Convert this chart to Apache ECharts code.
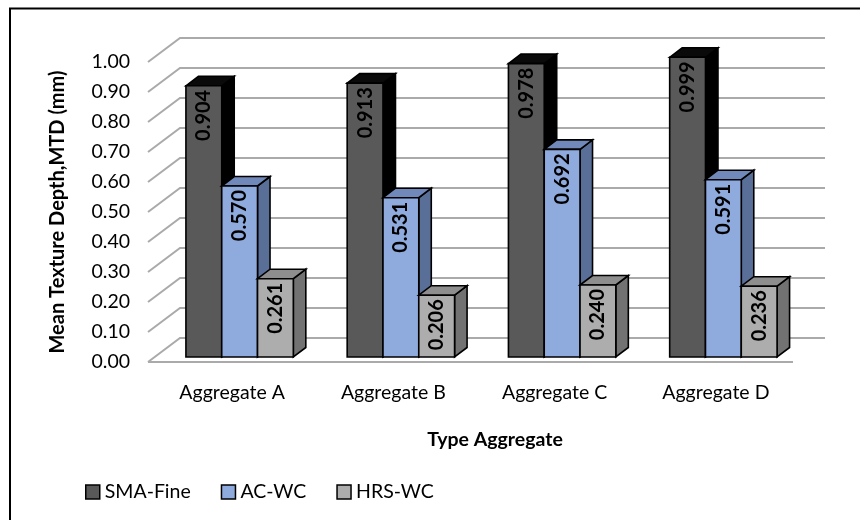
<!DOCTYPE html>
<html>
<head>
<meta charset="utf-8">
<script src="https://cdn.jsdelivr.net/npm/echarts@6/dist/echarts.min.js"></script>
<style>
  html, body { margin: 0; padding: 0; background: #fff; }
  #chart { width: 860px; height: 520px; }
</style>
</head>
<body>
<div id="chart"></div>
<script>
// Mean texture depth per aggregate type
const categories = ['Aggregate A', 'Aggregate B', 'Aggregate C', 'Aggregate D'];
const seriesNames = ['SMA-Fine', 'AC-WC', 'HRS-WC'];
const smaFine = [0.904, 0.913, 0.978, 0.999];
const acWc = [0.570, 0.531, 0.692, 0.591];
const hrsWc = [0.261, 0.206, 0.240, 0.236];
const yTicks = [0, 0.1, 0.2, 0.3, 0.4, 0.5, 0.6, 0.7, 0.8, 0.9, 1.0];

const FONT = 'Lato';

// front / top / side shades for each series
const shades = [
  { front: '#595959', top: '#0a0a0a', side: '#000000' },
  { front: '#8faadc', top: '#7189ba', side: '#5a6f98' },
  { front: '#adadad', top: '#8e8e8e', side: '#727272' }
];

// oblique depth of the wall and of the bars (px)
const WALL_DX = 32, WALL_DY = -24;
const BAR_FRONT_DY = -5;
const BAR_DX = 12.5, BAR_DY = -9.5;

function wallRender(params, api) {
  const cs = params.coordSys;
  const v = api.value(1);
  const p = api.coord([0, v]);
  const x0 = cs.x, x1 = cs.x + cs.width, y = p[1];
  const children = [{
    type: 'polyline',
    shape: { points: [[x0, y], [x0 + WALL_DX, y + WALL_DY], [x1 + WALL_DX, y + WALL_DY]] },
    style: { stroke: '#aaaaaa', lineWidth: 2, fill: null }
  }];
  if (v === 0) {
    children.push({
      type: 'line',
      shape: { x1: x0, y1: y, x2: x1, y2: y },
      style: { stroke: '#aaaaaa', lineWidth: 2 }
    });
  }
  return { type: 'group', children: children };
}

function makeBarRender(sIdx) {
  return function (params, api) {
    const i = api.value(0);
    const v = api.value(1);
    const base = api.coord([i, 0]);
    const topP = api.coord([i, v]);
    const band = api.size([1, 0])[0];
    const w = band * 0.222;
    const groupLeft = base[0] + 11 - 1.5 * w;
    const L = groupLeft + sIdx * w;
    const R = L + w;
    const B = base[1] + BAR_FRONT_DY;
    const T = topP[1] + BAR_FRONT_DY;
    const c = shades[sIdx];
    const edge = { stroke: '#000', lineWidth: 1.6, lineJoin: 'miter' };
    return {
      type: 'group',
      children: [
        {
          type: 'polygon',
          shape: { points: [[R, T], [R + BAR_DX, T + BAR_DY], [R + BAR_DX, B + BAR_DY], [R, B]] },
          style: Object.assign({ fill: c.side }, edge)
        },
        {
          type: 'polygon',
          shape: { points: [[L, T], [L + BAR_DX, T + BAR_DY], [R + BAR_DX, T + BAR_DY], [R, T]] },
          style: Object.assign({ fill: c.top }, edge)
        },
        {
          type: 'rect',
          shape: { x: L, y: T, width: w, height: B - T },
          style: Object.assign({ fill: c.front }, edge)
        },
        {
          type: 'text',
          x: L + w / 2,
          y: T + 4,
          rotation: Math.PI / 2,
          style: {
            text: v.toFixed(3),
            align: 'right',
            verticalAlign: 'middle',
            fill: '#000',
            font: 'bold 20px ' + FONT
          }
        }
      ]
    };
  };
}

const seriesValues = [smaFine, acWc, hrsWc];

const chart = echarts.init(document.getElementById('chart'), null, { renderer: 'canvas' });

const series = [{
  type: 'custom',
  name: 'wall',
  renderItem: wallRender,
  data: yTicks.map(t => [0, t]),
  silent: true,
  z: 1
}];
seriesValues.forEach((vals, s) => {
  series.push({
    type: 'custom',
    name: seriesNames[s],
    renderItem: makeBarRender(s),
    itemStyle: { color: shades[s].front },
    data: vals.map((v, i) => [i, v]),
    z: 2
  });
});

chart.setOption({
  backgroundColor: '#ffffff',
  animation: false,
  graphic: [{
    type: 'rect',
    shape: { x: 10, y: 8.5, width: 900, height: 560 },
    style: { fill: null, stroke: '#000', lineWidth: 2 },
    silent: true,
    z: 0
  }],
  grid: { left: 148, top: 62, width: 645, height: 300, show: false },
  xAxis: {
    type: 'category',
    data: categories,
    axisLine: { show: false },
    axisTick: { show: false },
    splitLine: { show: false },
    axisLabel: { fontFamily: FONT, fontSize: 19.5, color: '#000', margin: 21, padding: [0, 0, 0, 7] },
    name: 'Type Aggregate',
    nameLocation: 'middle',
    nameGap: 68,
    nameTextStyle: { fontFamily: FONT, fontSize: 19.5, fontWeight: 'bold', color: '#000', padding: [0, 0, 0, 49] }
  },
  yAxis: {
    type: 'value',
    min: 0,
    max: 1,
    interval: 0.1,
    axisLine: { show: false },
    axisTick: { show: false },
    splitLine: { show: false },
    axisLabel: {
      fontFamily: FONT, fontSize: 19.5, color: '#000', margin: 18,
      formatter: v => v.toFixed(2)
    },
    name: 'Mean Texture Depth,MTD (mm)',
    nameLocation: 'middle',
    nameGap: 80,
    nameTextStyle: { fontFamily: FONT, fontSize: 20, fontWeight: 'bold', color: '#000' }
  },
  legend: {
    left: 80,
    top: 477,
    itemWidth: 14,
    itemHeight: 14,
    itemGap: 30,
    icon: 'rect',
    textStyle: { fontFamily: FONT, fontSize: 19.5, color: '#000', lineHeight: 20 },
    data: seriesNames.map((n, s) => ({
      name: n,
      itemStyle: { color: shades[s].front, borderColor: '#000', borderWidth: 1.5 }
    }))
  },
  series: series
});
</script>
</body>
</html>
